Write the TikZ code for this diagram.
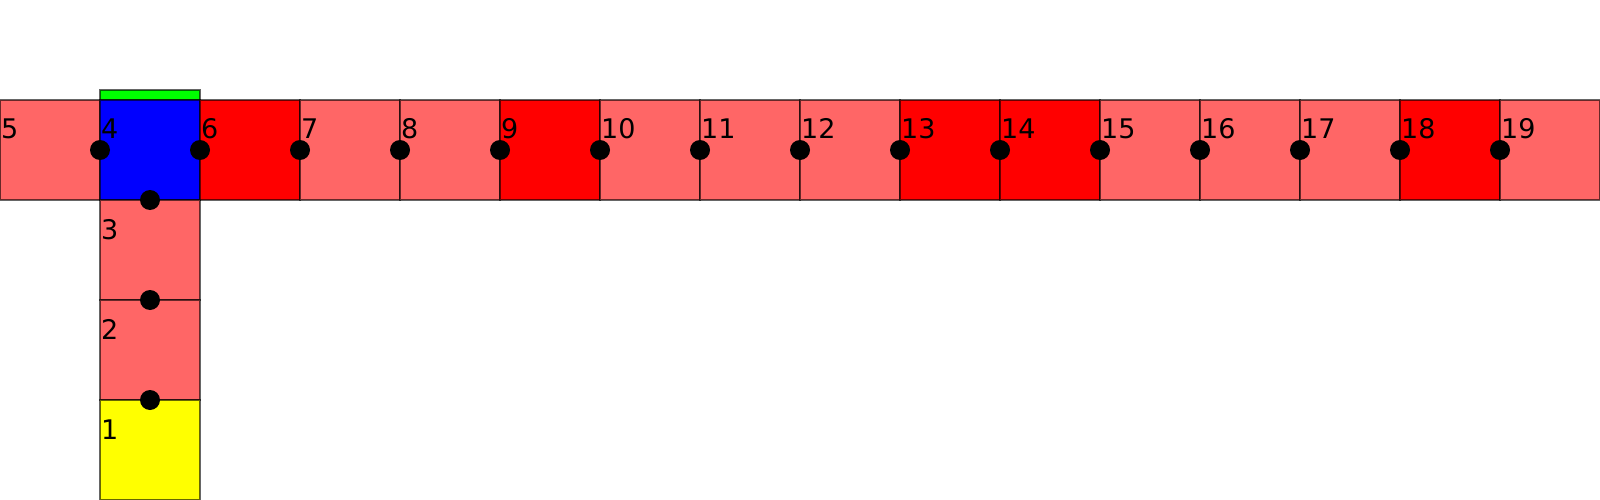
\documentclass[tikz,border=0pt]{standalone}
\usepackage{fontspec}
\setmainfont{DejaVu Sans}
\definecolor{lred}{HTML}{FF6666}
\definecolor{fred}{HTML}{FF0000}
\definecolor{fblue}{HTML}{0000FF}
\definecolor{fyel}{HTML}{FFFF00}
\definecolor{fgreen}{HTML}{00FF00}
\begin{document}
\begin{tikzpicture}[x=1pt,y=-1pt,
  cell/.style={draw=black,draw opacity=0.6,line width=1.1pt,minimum width=100pt,minimum height=100pt,inner sep=0pt,outer sep=0pt},
  lab/.style={anchor=base west,inner sep=0pt,font=\fontsize{27}{27}\selectfont},
  dot/.style={circle,fill=black,minimum size=20pt,inner sep=0pt}]
\useasboundingbox (0,0) rectangle (1600,500);
% green strip
\node[cell,fill=fgreen,minimum height=10pt] (g) at (150,95) {};
% row cells
\node[cell,fill=lred] (c5) at (50,150) {};
\node[cell,fill=fblue] (c4) at (150,150) {};
\foreach \n/\c in {6/fred,7/lred,8/lred,9/fred,10/lred,11/lred,12/lred,13/fred,14/fred,15/lred,16/lred,17/lred,18/fred,19/lred}{
  \node[cell,fill=\c] (c\n) at ({(\n-4)*100+50},150) {};
}
% column cells
\node[cell,fill=lred] (c3) at (150,250) {};
\node[cell,fill=lred] (c2) at (150,350) {};
\node[cell,fill=fyel] (c1) at (150,450) {};
% labels
\node[lab] (l5) at (1,139) {5};
\node[lab] (l4) at (101,139) {4};
\foreach \n in {6,...,19}{
  \node[lab] (l\n) at ({(\n-4)*100+1},139) {\n};
}
\node[lab] (l3) at (101,239) {3};
\node[lab] (l2) at (101,339) {2};
\node[lab] (l1) at (101,439) {1};
% dots
\node[dot] (d4) at (c4.west) {};
\foreach \n in {6,...,19}{
  \node[dot] (d\n) at (c\n.west) {};
}
\node[dot] (d3) at (c3.north) {};
\node[dot] (d2) at (c2.north) {};
\node[dot] (d1) at (c1.north) {};
\end{tikzpicture}
\end{document}
